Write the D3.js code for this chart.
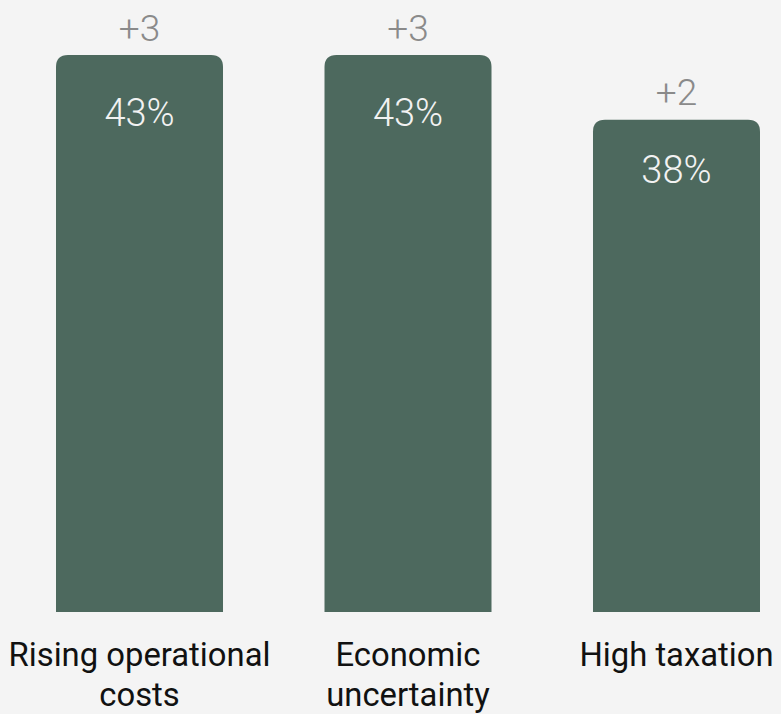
<!DOCTYPE html>
<html lang="en">
<head>
<meta charset="UTF-8">
<title>Top concerns</title>
<script src="https://d3js.org/d3.v7.min.js"></script>
<style>
  body, html { margin: 0; padding: 0; background: #f4f4f4; }
  svg { display: block; }
  .cat { fill: #111; font-size: 32.8px; text-anchor: middle; font-family: Roboto, sans-serif; }
  .change { fill: #8a8a8a; font-size: 37px; text-anchor: middle; font-family: Roboto, sans-serif; font-weight: 300; }
  .value { fill: #f2f2f2; font-size: 38px; text-anchor: middle; font-family: Roboto, sans-serif; font-weight: 300; }
</style>
</head>
<body>
<svg width="781" height="714" id="chart"></svg>
<script>
  // data
  const categories = ["Rising operational costs", "Economic uncertainty", "High taxation"];
  const labelLines = [["Rising operational", "costs"], ["Economic", "uncertainty"], ["High taxation"]];
  const values = [43, 43, 38];
  const changes = ["+3", "+3", "+2"];

  const svg = d3.select("#chart");
  const baseY = 612;
  const radius = 12;

  const x = d3.scaleBand()
    .domain(categories)
    .range([56, 760])
    .paddingInner(0.378)
    .paddingOuter(0);

  const y = d3.scaleLinear()
    .domain([0, 43])
    .range([baseY, 55]);

  // bar with rounded top corners
  function barPath(x0, y0, w, h) {
    const r = Math.min(radius, h);
    return `M${x0},${y0 + h}V${y0 + r}Q${x0},${y0} ${x0 + r},${y0}` +
      `H${x0 + w - r}Q${x0 + w},${y0} ${x0 + w},${y0 + r}V${y0 + h}Z`;
  }

  svg.selectAll(".bar")
    .data(values)
    .enter()
    .append("path")
    .attr("class", "bar")
    .attr("fill", "#4d695e")
    .attr("d", (d, i) => barPath(x(categories[i]), y(d), x.bandwidth(), baseY - y(d)));

  svg.selectAll(".change")
    .data(changes)
    .enter()
    .append("text")
    .attr("class", "change")
    .attr("x", (d, i) => x(categories[i]) + x.bandwidth() / 2)
    .attr("y", (d, i) => y(values[i]) - 14.5)
    .text(d => d);

  // value label sits a fixed share of the bar height below its top
  svg.selectAll(".value")
    .data(values)
    .enter()
    .append("text")
    .attr("class", "value")
    .attr("x", (d, i) => x(categories[i]) + x.bandwidth() / 2)
    .attr("y", d => y(d) + (baseY - y(d)) * 0.1275)
    .text(d => d + "%");

  const cats = svg.selectAll(".cat")
    .data(labelLines)
    .enter()
    .append("text")
    .attr("class", "cat")
    .attr("x", (d, i) => x(categories[i]) + x.bandwidth() / 2)
    .attr("y", 666);

  cats.selectAll("tspan")
    .data(d => d)
    .enter()
    .append("tspan")
    .attr("x", function () { return d3.select(this.parentNode).attr("x"); })
    .attr("dy", (d, i) => i === 0 ? 0 : 40)
    .text(d => d);
</script>
</body>
</html>
